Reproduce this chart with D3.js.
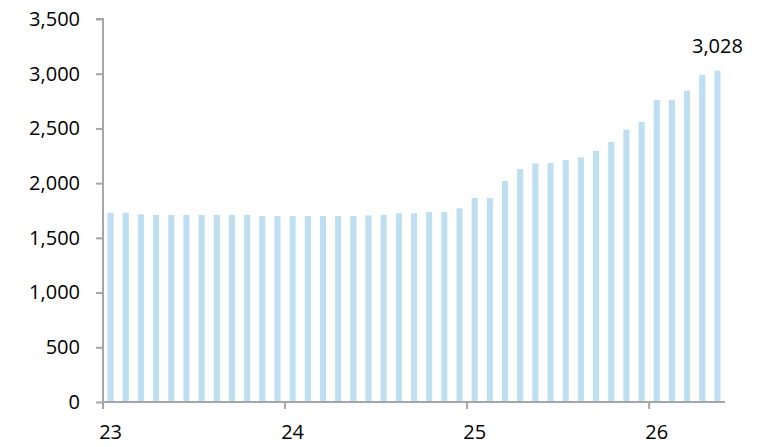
<!DOCTYPE html>
<html>
<head>
<meta charset="utf-8">
<script src="https://cdn.jsdelivr.net/npm/d3@7"></script>
<style>
  html, body { margin: 0; padding: 0; background: #fff; }
  svg { display: block; }
  text { font-family: "Open Sans", "Noto Sans", sans-serif; fill: #000; }
</style>
</head>
<body>
<svg id="chart" width="769" height="447"></svg>
<script>
// ---- data ----
const months = [
  "2023-01","2023-02","2023-03","2023-04","2023-05","2023-06","2023-07","2023-08","2023-09","2023-10","2023-11","2023-12",
  "2024-01","2024-02","2024-03","2024-04","2024-05","2024-06","2024-07","2024-08","2024-09","2024-10","2024-11","2024-12",
  "2025-01","2025-02","2025-03","2025-04","2025-05","2025-06","2025-07","2025-08","2025-09","2025-10","2025-11","2025-12",
  "2026-01","2026-02","2026-03","2026-04","2026-05"
];
const values = [
  1730, 1730, 1715, 1710, 1710, 1710, 1710, 1710, 1710, 1710, 1700, 1700,
  1700, 1700, 1700, 1700, 1700, 1705, 1710, 1725, 1725, 1735, 1735, 1770,
  1865, 1865, 2020, 2130, 2180, 2185, 2210, 2235, 2295, 2375, 2490, 2560,
  2760, 2760, 2845, 2990, 3028
];
const yTicks = [0, 500, 1000, 1500, 2000, 2500, 3000, 3500];
const yearLabels = ["23", "24", "25", "26"];
const yearStarts = ["2023-01", "2024-01", "2025-01", "2026-01"];
const lastLabel = "3,028";

// ---- layout ----
const svg = d3.select("#chart");
const pLeft = 103, pRight = 725, pTop = 19, pBottom = 402;
const axisColor = "#a6a6a6";
const barColor = "#bddff1";

const x = d3.scaleBand().domain(months).range([pLeft, pRight]).paddingInner(0.6).paddingOuter(0.3);
const y = d3.scaleLinear().domain([0, 3500]).range([pBottom, pTop]);
const step = x.step();

// bars
svg.append("g").selectAll("rect").data(values).join("rect")
  .attr("x", (d, i) => x(months[i]))
  .attr("width", x.bandwidth())
  .attr("y", d => y(d))
  .attr("height", d => y(0) - y(d))
  .attr("fill", barColor);

// y axis
const yAxis = d3.axisLeft(y).tickValues(yTicks).tickSize(7).tickPadding(16)
  .tickFormat(d3.format(","));
const gy = svg.append("g").attr("transform", `translate(${pLeft},0)`).call(yAxis);
gy.select(".domain").attr("stroke", axisColor).attr("stroke-width", 2).attr("d", `M-7,${pTop}H0V${pBottom}`);
gy.selectAll(".tick line").attr("stroke", axisColor).attr("stroke-width", 2);
gy.selectAll(".tick text").attr("font-size", 20).attr("font-family", '"Open Sans", "Noto Sans", sans-serif').attr("fill", "#000");

// x axis: line with year ticks at the start of each January slot
const tickPos = yearStarts.map(m => x(m) - step * x.paddingInner() / 2);
const gx = svg.append("g");
gx.append("line").attr("x1", pLeft).attr("x2", pRight).attr("y1", pBottom).attr("y2", pBottom)
  .attr("stroke", axisColor).attr("stroke-width", 2);
gx.selectAll("line.tk").data(tickPos).join("line").attr("class", "tk")
  .attr("x1", d => d).attr("x2", d => d).attr("y1", pBottom).attr("y2", pBottom + 7)
  .attr("stroke", axisColor).attr("stroke-width", 2);
gx.selectAll("text").data(yearLabels).join("text")
  .attr("x", (d, i) => x(yearStarts[i]) + x.bandwidth() / 2)
  .attr("y", 439)
  .attr("text-anchor", "middle")
  .attr("font-size", 20)
  .text(d => d);

// last value label
const li = values.length - 1;
svg.append("text")
  .attr("x", x(months[li]) + x.bandwidth() / 2)
  .attr("y", y(values[li]) - 18)
  .attr("text-anchor", "middle")
  .attr("font-size", 20)
  .text(lastLabel);
</script>
</body>
</html>
